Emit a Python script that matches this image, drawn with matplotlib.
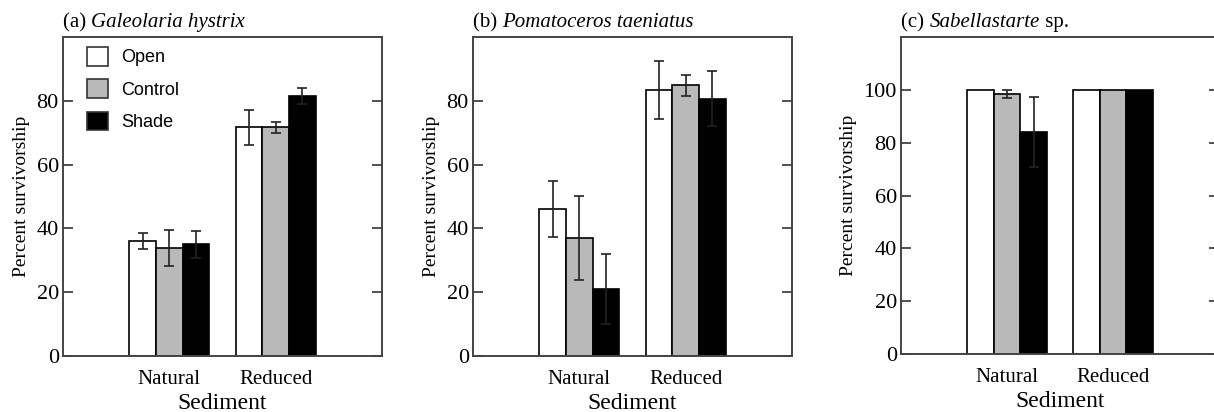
import numpy as np
import matplotlib.pyplot as plt
from matplotlib.patches import Patch

# Survivorship (%) by sediment and treatment
sediments = ['Natural', 'Reduced']
treatments = ['Open', 'Control', 'Shade']

galeolaria_mean = {'Open': [36, 71.7], 'Control': [33.8, 71.7], 'Shade': [35, 81.5]}
galeolaria_err = {'Open': [2.5, 5.4], 'Control': [5.7, 1.8], 'Shade': [4.3, 2.6]}

pomatoceros_mean = {'Open': [46, 83.4], 'Control': [37, 84.9], 'Shade': [21, 80.7]}
pomatoceros_err = {'Open': [8.8, 9.2], 'Control': [13.2, 3.3], 'Shade': [10.9, 8.5]}

sabellastarte_mean = {'Open': [100, 100], 'Control': [98.5, 100], 'Shade': [84, 100]}
sabellastarte_err = {'Open': [0, 0], 'Control': [1.6, 0], 'Shade': [13.4, 0]}

colors = {'Open': 'white', 'Control': '#b9b9b9', 'Shade': 'black'}

serif = 'Liberation Serif'
sans = 'Liberation Sans'

W, H = 1214, 412
fig = plt.figure(figsize=(W / 100, H / 100), dpi=100)


def px_axes(left, top, right, bottom):
    return fig.add_axes([left / W, (H - bottom) / H, (right - left) / W, (bottom - top) / H])


panels = [
    ((63, 37, 382, 356), '(a) ', 'Galeolaria hystrix', '', galeolaria_mean, galeolaria_err, 100, [0, 20, 40, 60, 80]),
    ((473, 37, 792, 356), '(b) ', 'Pomatoceros taeniatus', '', pomatoceros_mean, pomatoceros_err, 100, [0, 20, 40, 60, 80]),
    ((901, 37, 1219, 354), '(c) ', 'Sabellastarte', ' sp.', sabellastarte_mean, sabellastarte_err, 120, [0, 20, 40, 60, 80, 100]),
]

width = 0.25
x = np.arange(len(sediments))

for i, (box, tag, species, suffix, means, errs, ymax, yticks) in enumerate(panels):
    ax = px_axes(*box)
    for j, t in enumerate(treatments):
        pos = x + (j - 1) * width
        ax.bar(pos, means[t], width, color=colors[t], edgecolor='black', linewidth=1.2, zorder=2)
        for k in range(len(x)):
            if errs[t][k] > 0:
                ax.errorbar(pos[k], means[t][k], yerr=errs[t][k], fmt='none', ecolor='#222222',
                            elinewidth=1.2, capsize=3.5, capthick=1.2, zorder=3)
    ax.set_xlim(-1, 2)
    ax.set_ylim(0, ymax)
    ax.set_yticks(yticks)
    ax.set_xticks(x)
    ax.set_xticklabels(sediments, fontsize=15, family=serif)
    ax.tick_params(axis='x', length=0, pad=10)
    ax.tick_params(axis='y', direction='in', length=7, width=1.2, right=True,
                   labelsize=16, pad=3, color='#333333')
    for lab in ax.get_yticklabels():
        lab.set_family(serif)
    for s in ax.spines.values():
        s.set_linewidth(1.4)
        s.set_color('#444444')
    ax.set_xlabel('Sediment', fontsize=17, family=serif, labelpad=3)
    ax.set_ylabel('Percent survivorship', fontsize=14, family=serif, labelpad=5)

    # title: plain tag, italic species name, optional plain suffix
    ty = 1.015
    t1 = ax.text(0, ty, tag, transform=ax.transAxes, fontsize=15, family=serif, va='bottom')
    fig.canvas.draw()
    bb = t1.get_window_extent().transformed(ax.transAxes.inverted())
    t2 = ax.text(bb.x1, ty, species, transform=ax.transAxes, fontsize=15, family=serif,
                 style='italic', va='bottom')
    if suffix:
        fig.canvas.draw()
        bb2 = t2.get_window_extent().transformed(ax.transAxes.inverted())
        ax.text(bb2.x1, ty, suffix, transform=ax.transAxes, fontsize=15, family=serif, va='bottom')

    if i == 0:
        handles = [Patch(facecolor=colors[t], edgecolor='#333333', linewidth=1.2) for t in treatments]
        ax.legend(handles, treatments, loc='upper left', frameon=False,
                  prop={'family': sans, 'size': 13}, handlelength=1.2, handleheight=1.2,
                  labelspacing=0.72, handletextpad=0.7, borderaxespad=0.3,
                  bbox_to_anchor=(0.035, 1.008))

fig.savefig('out.png', dpi=100)
